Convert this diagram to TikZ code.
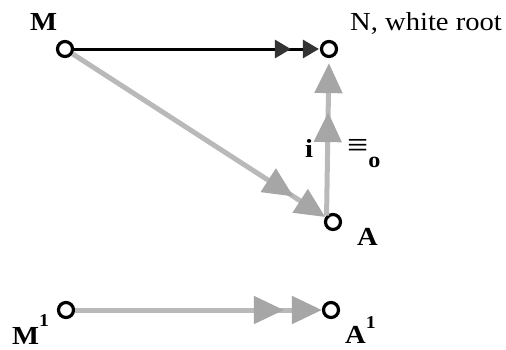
\documentclass[tikz,border=0pt]{standalone}
\usepackage{fontspec}
\setmainfont{Liberation Serif}[FakeStretch=1.1]
\usetikzlibrary{arrows.meta}
\begin{document}
\begin{tikzpicture}[x=1pt,y=-1pt,
  pt/.style={circle,draw,line width=3.2pt,minimum size=15pt,inner sep=0pt,fill=white},
  lbl/.style={anchor=base west,inner sep=0pt,font=\fontsize{26}{30}\selectfont},
  blk/.style={line width=3pt,draw=black,
    -{Triangle[length=16pt,width=18pt,sep=12pt,color=black!80] Triangle[length=16pt,width=18pt,color=black!80]}},
  gry/.style={line width=5pt,draw=gray!55,
    -{Triangle[length=30pt,width=27pt,sep=#1,color=gray!70] Triangle[length=30pt,width=27pt,color=gray!70]}},
  gry/.default=8pt]
\useasboundingbox (0,0) rectangle (506,349);
\node[pt] (M) at (65,49) {};
\node[pt] (N) at (329,49) {};
\node[pt] (A) at (333,222) {};
\node[pt] (M1) at (66,310) {};
\node[pt] (A1) at (331,310) {};
\draw[blk,shorten >=1pt] (M) -- (N);
\draw[gry=19pt,shorten >=5pt] (A.135) -- (N.south);
\draw[gry=8pt] (M) -- (A);
\draw[gry=8pt] (M1) -- (A1);
\node[lbl] (lM) at (30,30) {\textbf{M}};
\node[lbl] (lN) at (350,30) {N, white root};
\node[lbl] (lA) at (357,245) {\textbf{A}};
\node[lbl] (li) at (305,157) {\textbf{i}};
\node[lbl] (leq) at (347,156) {{\fontsize{34}{36}\selectfont ≡}\raisebox{-11pt}{\fontsize{22}{24}\selectfont\textbf{o}}};
\node[lbl] (lM1) at (12,344) {\textbf{M}\raisebox{18pt}{\fontsize{18}{20}\selectfont\textbf{1}}};
\node[lbl] (lA1) at (345,343) {\textbf{A}\raisebox{15pt}{\fontsize{18}{20}\selectfont\textbf{1}}};
\end{tikzpicture}
\end{document}
